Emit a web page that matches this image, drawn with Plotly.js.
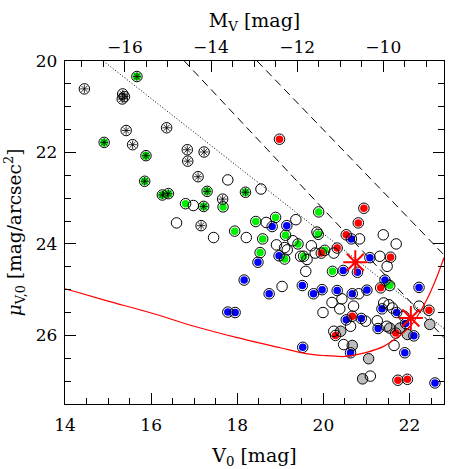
<!DOCTYPE html>
<html>
<head>
<meta charset="utf-8">
<script src="https://cdn.plot.ly/plotly-3.0.1.min.js"></script>
<style>html,body{margin:0;padding:0;background:#fff;}#chart{width:469px;height:469px;}</style>
</head>
<body>
<div id="chart"></div>
<script>
// distance modulus used for the top M_V axis
const distMod = 31.39;

// open circles with asterisk (nucleated, no colour)
const openAstV  = [14.45, 15.34, 15.38, 15.33, 15.42, 15.57, 16.36, 16.84, 16.85, 17.23, 17.09, 17.66, 17.16];
const openAstMu = [20.61, 20.72, 20.78, 20.83, 21.52, 21.83, 21.46, 21.94, 22.19, 21.99, 22.53, 23.02, 23.60];

// green filled circles with asterisk
const greenAstV  = [15.67, 14.91, 15.88, 15.85, 16.26, 16.40, 17.30, 17.22, 18.19];
const greenAstMu = [20.34, 21.78, 22.07, 22.63, 22.93, 22.90, 22.85, 23.18, 22.87];

// open circles
const openV  = [16.98, 16.59, 17.78, 18.55, 17.45, 18.21, 18.67, 19.36, 18.91, 19.10, 19.29, 19.47, 19.04,
                19.85, 20.84, 21.39, 21.69, 19.72, 19.62, 20.24, 21.31, 21.48, 19.59, 20.82, 20.20, 20.43,
                20.38, 19.99, 20.70, 20.98, 20.63, 20.24, 21.25, 21.40, 21.52, 21.60, 21.47, 22.22, 21.64,
                20.47, 21.09, 19.81, 19.16, 21.87];
const openMu = [23.16, 23.54, 22.60, 22.80, 23.86, 23.86, 23.53, 23.47, 24.02, 24.08, 23.93, 24.27, 24.93,
                23.74, 23.89, 23.80, 24.00, 24.04, 24.34, 24.20, 24.27, 24.49, 24.60, 25.09, 25.28, 25.20,
                25.42, 25.50, 25.36, 25.69, 25.80, 25.91, 25.68, 25.29, 25.33, 25.40, 25.80, 25.36, 26.22,
                26.20, 26.89, 24.20, 24.13, 25.58];

// green filled circles
const greenV  = [16.80, 17.67, 18.43, 17.94, 18.89, 19.12, 18.59, 19.41, 18.53, 19.10, 19.54, 19.89, 19.88, 20.03, 20.21, 21.54];
const greenMu = [23.12, 23.19, 23.51, 23.72, 23.42, 23.81, 23.89, 24.00, 24.19, 24.33, 24.27, 23.30, 23.79, 24.14, 24.60, 24.91];

// blue filled circles
const blueV  = [18.81, 19.15, 18.97, 18.48, 18.16, 19.51, 18.74, 17.78, 17.95, 20.65, 21.08, 20.46, 20.79, 21.43,
                22.22, 19.77, 19.97, 20.32, 20.67, 21.01, 20.53, 20.88, 21.27, 21.36, 21.70, 21.91, 22.10, 21.89,
                20.63, 22.59, 19.52];
const blueMu = [23.62, 23.60, 24.26, 24.40, 24.79, 24.91, 25.09, 25.49, 25.50, 23.89, 24.30, 24.58, 24.62, 24.79,
                24.95, 25.09, 25.00, 25.02, 25.09, 25.01, 25.66, 25.63, 25.85, 25.42, 25.50, 25.74, 26.01, 26.38,
                26.38, 27.04, 26.26];

// red filled circles
const redV  = [18.98, 20.94, 20.81, 20.53, 19.95, 20.32, 21.56, 21.33, 20.67, 20.28, 21.68, 22.45, 21.73, 21.95];
const redMu = [21.71, 23.22, 23.54, 23.80, 24.20, 24.09, 24.29, 24.96, 25.58, 26.00, 25.95, 25.45, 26.98, 26.96];

// grey filled circles
const greyV  = [20.40, 21.54, 21.78, 21.95, 22.47, 20.67, 21.05, 20.91];
const greyMu = [25.91, 25.84, 25.84, 25.98, 25.76, 26.22, 26.51, 26.95];

// large red asterisks
const starV  = [20.74, 22.03];
const starMu = [24.40, 25.62];

// red limit curve
const curveV  = [14.0, 15.0, 16.0, 17.0, 18.0, 19.0, 19.6, 20.0, 20.5, 21.0, 21.4, 22.0, 22.4, 22.6, 22.8];
const curveMu = [24.98, 25.25, 25.51, 25.80, 26.05, 26.27, 26.40, 26.44, 26.46, 26.37, 26.24, 25.82, 25.22, 24.80, 24.30];

// reference lines
const dotLineV  = [14.89, 22.8];
const dotLineMu = [20.0, 25.85];
const dash1V  = [16.77, 22.8];
const dash1Mu = [20.0, 26.05];
const dash2V  = [18.46, 22.8];
const dash2Mu = [20.0, 24.24];

const FONT = 'DejaVu Serif, Liberation Serif, serif';
const ringV = [].concat(openAstV, greenAstV, openV, greenV, blueV, redV, greyV);
const ringMu = [].concat(openAstMu, greenAstMu, openMu, greenMu, blueMu, redMu, greyMu);

function lineTrace(x, y, dash) {
  return {x: x, y: y, mode: 'lines', type: 'scatter', hoverinfo: 'skip',
          line: {color: '#000', width: 1, dash: dash}, cliponaxis: true};
}
function dotTrace(x, y, color, size) {
  return {x: x, y: y, mode: 'markers', type: 'scatter', hoverinfo: 'skip',
          marker: {symbol: 'circle', size: size, color: color, line: {width: 0}}};
}

const traces = [
  lineTrace(dotLineV, dotLineMu, '1px,2px'),
  lineTrace(dash1V, dash1Mu, '8px,5px'),
  lineTrace(dash2V, dash2Mu, '8px,5px'),
  dotTrace(greyV, greyMu, '#bdbdbd', 10),
  dotTrace(greenAstV, greenAstMu, '#00ee00', 8),
  dotTrace(greenV, greenMu, '#00ee00', 7.5),
  dotTrace(blueV, blueMu, '#0000ff', 7.5),
  dotTrace(redV, redMu, '#ff0000', 7.5),
  {x: ringV, y: ringMu, mode: 'markers', type: 'scatter', hoverinfo: 'skip',
   marker: {symbol: 'circle-open', size: 10.5, color: '#000', line: {width: 1, color: '#000'}}},
  {x: [].concat(openAstV, greenAstV), y: [].concat(openAstMu, greenAstMu), mode: 'markers', type: 'scatter', hoverinfo: 'skip',
   marker: {symbol: 'asterisk-open', size: 7, color: '#000', line: {width: 0.8, color: '#000'}}},
  {x: curveV, y: curveMu, mode: 'lines', type: 'scatter', hoverinfo: 'skip',
   line: {color: '#ff0000', width: 1.2, shape: 'spline', smoothing: 0.8}},
  {x: starV, y: starMu, mode: 'markers', type: 'scatter', hoverinfo: 'skip',
   marker: {symbol: 'asterisk-open', size: 20, color: '#ff0000', line: {width: 2, color: '#ff0000'}}},
  {x: [14 - distMod], y: [20], xaxis: 'x2', mode: 'markers', type: 'scatter', hoverinfo: 'skip',
   marker: {opacity: 0, size: 1}}
];

const axisCommon = {
  showgrid: false, zeroline: false, showline: true, linecolor: '#000', linewidth: 1.3,
  ticks: 'inside', ticklen: 11, tickwidth: 1, tickcolor: '#000',
  tickfont: {family: FONT, size: 17, color: '#000'},
  minor: {ticks: 'inside', ticklen: 6, tickwidth: 1, tickcolor: '#000', dtick: 0.5, showgrid: false}
};

const layout = {
  width: 469, height: 469,
  margin: {l: 65, r: 25, t: 61, b: 65, pad: 0},
  paper_bgcolor: '#fff', plot_bgcolor: '#fff',
  showlegend: false,
  font: {family: FONT, color: '#000'},
  xaxis: Object.assign({}, axisCommon, {
    range: [14, 22.8], tick0: 14, dtick: 2, mirror: true, ticklabelstandoff: 5,
    title: {text: 'V<sub>0</sub> [mag]', font: {family: FONT, size: 19, color: '#000'}, standoff: 15}
  }),
  xaxis2: Object.assign({}, axisCommon, {
    overlaying: 'x', side: 'top', anchor: 'y',
    range: [14 - distMod, 22.8 - distMod], tick0: -16, dtick: 2,
    title: {text: 'M<sub>V</sub> [mag]', font: {family: FONT, size: 19, color: '#000'}, standoff: 4}
  }),
  yaxis: Object.assign({}, axisCommon, {
    range: [27.5, 20], tick0: 20, dtick: 2, mirror: 'ticks', ticklabelstandoff: 3,
    title: {text: '<i>μ</i><sub>V,0</sub> [mag/arcsec<sup>2</sup>]', font: {family: FONT, size: 18.5, color: '#000'}, standoff: 9}
  })
};

Plotly.newPlot('chart', traces, layout, {staticPlot: true, displayModeBar: false});
</script>
</body>
</html>
